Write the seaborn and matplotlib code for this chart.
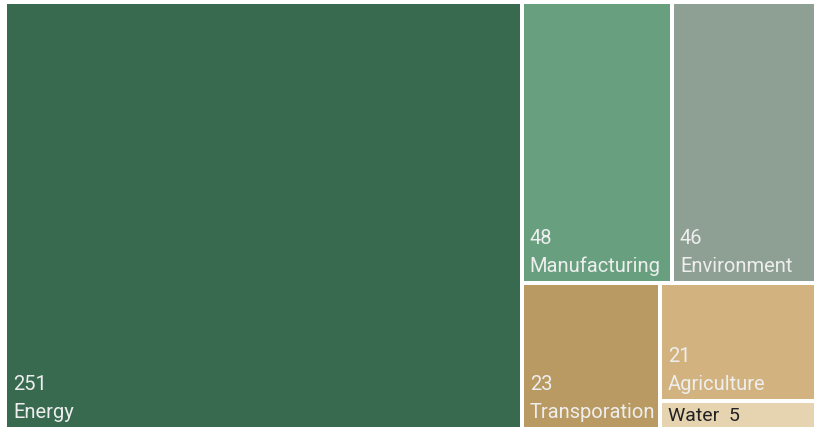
import matplotlib.pyplot as plt
import seaborn as sns
from matplotlib.patches import Rectangle

sns.set_theme(style="white")
plt.rcParams['font.family'] = ['Roboto', 'DejaVu Sans']

names = ["Energy", "Manufacturing", "Environment", "Transporation", "Agriculture", "Water"]
values = [251, 48, 46, 23, 21, 5]
colors = ["#386a50", "#68a07f", "#8da093", "#b89a62", "#d2b37f", "#e6d4b0"]

# nesting of the tiles: "h" splits left-right, "v" splits top-bottom
tree = ("h", [0, ("v", [("h", [1, 2]), ("h", [3, ("v", [4, 5])])])])


def total(node):
    if isinstance(node, int):
        return values[node]
    return sum(total(c) for c in node[1])


def layout(node, x, y, w, h, out):
    if isinstance(node, int):
        out[node] = (x, y, w, h)
        return
    kind, children = node
    s = total(node)
    pos = 0
    for c in children:
        frac = total(c) / s
        if kind == "h":
            layout(c, x + pos * w, y, w * frac, h, out)
        else:
            layout(c, x, y + pos * h, w, h * frac, out)
        pos += frac


W, H = 816, 430
fig = plt.figure(figsize=(W / 100, H / 100), dpi=100)
ax = fig.add_axes([0, 0, 1, 1])
ax.set_xlim(0, W)
ax.set_ylim(H, 0)
ax.axis("off")

rects = {}
layout(tree, 5, 2, 811, 427, rects)
gap = 2

for i, (x, y, w, h) in rects.items():
    ax.add_patch(Rectangle((x + gap, y + gap), w - 2 * gap, h - 2 * gap,
                           facecolor=colors[i], edgecolor="none"))
    left = x + gap + 6
    bottom = y + h - gap - 5
    if h < 50:
        ax.text(left, y + h / 2 + 1, f"{names[i]}  {values[i]}", color="#222222",
                fontsize=14, va="center", ha="left")
    else:
        ax.text(left, bottom, names[i], color="#eeeeee", fontsize=14.5,
                va="bottom", ha="left")
        ax.text(left, bottom - 28, str(values[i]), color="#eeeeee", fontsize=14.5,
                va="bottom", ha="left")

fig.savefig("out.png", dpi=100)
